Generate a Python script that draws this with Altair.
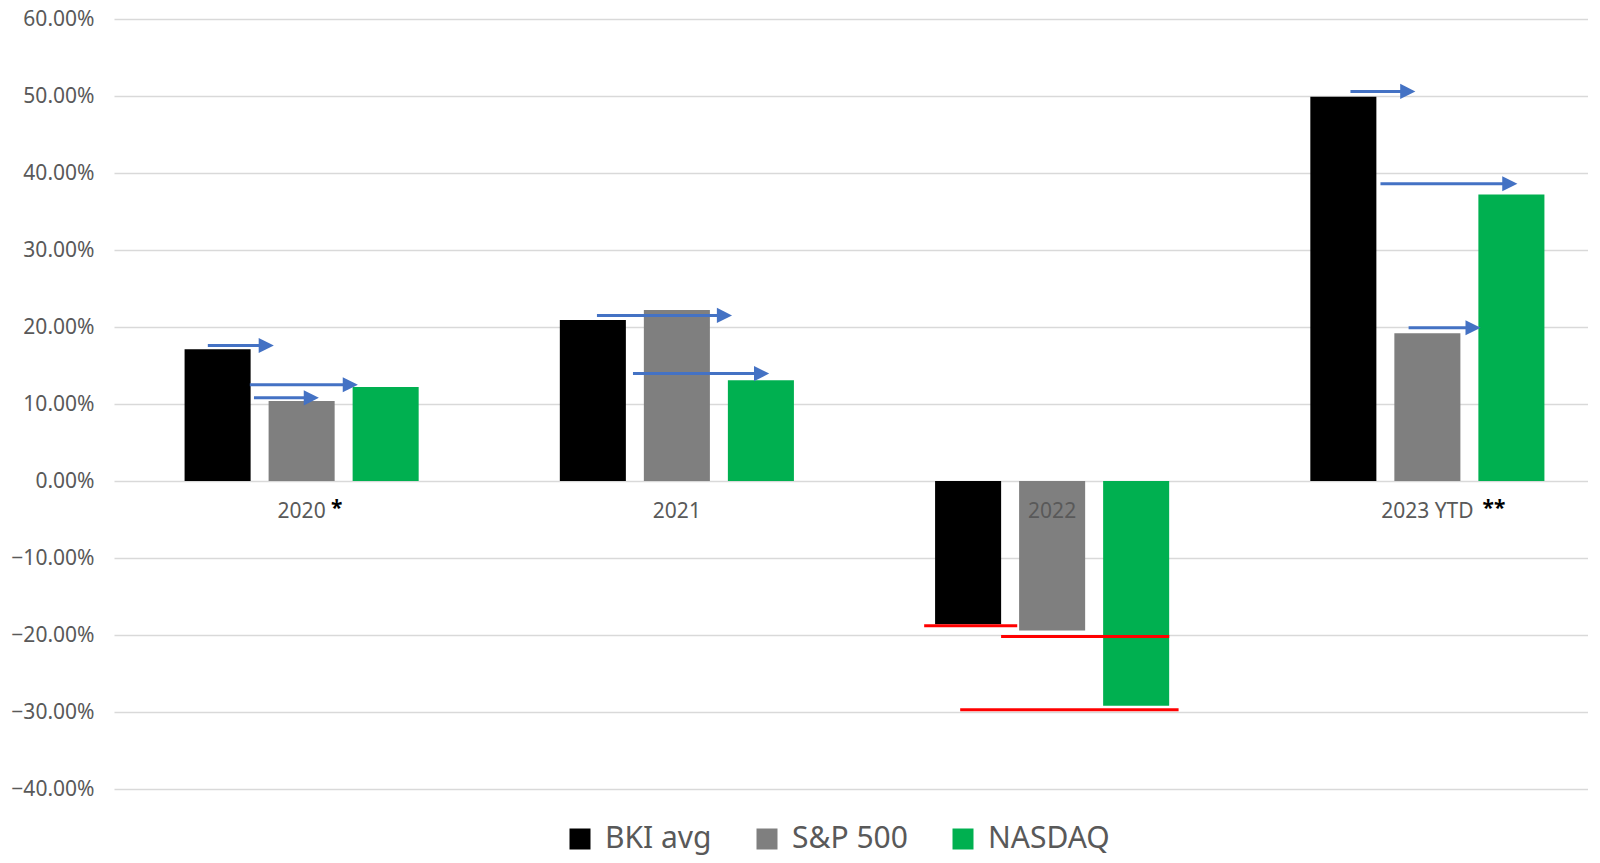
import altair as alt
import pandas as pd

FONT = "Noto Sans"

years = ["2020", "2021", "2022", "2023 YTD"]
series = ["BKI avg", "S&P 500", "NASDAQ"]
bki = [0.171, 0.209, -0.186, 0.499]
sp500 = [0.104, 0.222, -0.194, 0.192]
nasdaq = [0.122, 0.131, -0.292, 0.372]
colors = ["#000000", "#7F7F7F", "#00B050"]
y_ticks = [-0.4, -0.3, -0.2, -0.1, 0.0, 0.1, 0.2, 0.3, 0.4, 0.5, 0.6]

# annotation arrows (x in category units: category i spans [i, i+1])
arrow_x0 = [0.250, 0.362, 0.373, 1.287, 1.383, 3.295, 3.375, 3.450]
arrow_x1 = [0.426, 0.650, 0.546, 1.647, 1.746, 3.468, 3.740, 3.642]
arrow_y = [0.176, 0.125, 0.108, 0.215, 0.1395, 0.506, 0.386, 0.199]

# red marker lines in 2022
red_x0 = [2.159, 2.364, 2.255]
red_x1 = [2.407, 2.812, 2.837]
red_y = [-0.188, -0.202, -0.297]

# footnote asterisks next to category labels
star_text = ["*", "**"]
star_x = [0.578, 3.647]

XR = 1501  # pixel span of the four categories

rows = []
for i, yr in enumerate(years):
    for s, vals in zip(series, [bki, sp500, nasdaq]):
        rows.append({"year": yr, "series": s, "value": vals[i]})
df = pd.DataFrame(rows)

yaxis = alt.Axis(format=".2%", values=y_ticks, grid=True, gridColor="#D9D9D9",
                 gridWidth=1.5, domain=False, ticks=False, labelPadding=20,
                 labelFontSize=21, labelColor="#595959", labelFont=FONT, title=None)
yscale = alt.Scale(domain=[-0.4, 0.6], nice=False, zero=False)


def ydef(field):
    return alt.Y(f"{field}:Q", scale=yscale, axis=yaxis, title=None)


xband = alt.Scale(range=[0, XR], paddingInner=0, paddingOuter=0)
xq = alt.Scale(domain=[0, 4], range=[0, XR], nice=False, zero=False)

bars = alt.Chart(df).mark_bar().encode(
    x=alt.X("year:N", sort=years, scale=xband, axis=None),
    xOffset=alt.XOffset("series:N", sort=series,
                        scale=alt.Scale(paddingInner=0.214, paddingOuter=0.84)),
    y=ydef("value"),
    color=alt.Color("series:N", sort=series,
                    scale=alt.Scale(domain=series, range=colors),
                    legend=alt.Legend(title=None, orient="none", legendX=451, legendY=805,
                                      direction="horizontal", symbolType="square",
                                      symbolSize=441, symbolStrokeWidth=0,
                                      labelFontSize=30, labelColor="#595959",
                                      labelFont=FONT, labelOffset=10, columnPadding=40,
                                      labelLimit=0)),
)

labels_df = pd.DataFrame({"year": years, "zero": [0.0] * len(years)})
labels = alt.Chart(labels_df).mark_text(
    dy=31, fontSize=21, color="#595959", font=FONT, baseline="middle"
).encode(
    x=alt.X("year:N", sort=years, scale=alt.Scale(type="band", range=[0, XR],
                                                   paddingInner=0, paddingOuter=0), axis=None),
    y=ydef("zero"),
    text="year:N",
)

left = alt.layer(bars, labels)

arrows_df = pd.DataFrame({"x0": arrow_x0, "x1": arrow_x1, "y": arrow_y})
arrow_lines = alt.Chart(arrows_df).mark_rule(
    color="#4472C4", strokeWidth=3, x2Offset=-8
).encode(
    x=alt.X("x0:Q", scale=xq, axis=None), x2="x1:Q", y=ydef("y"),
)
arrow_heads = alt.Chart(arrows_df).mark_point(
    shape="M-2,-1L0,0L-2,1Z", filled=True, color="#4472C4", opacity=1, size=230,
    strokeWidth=0
).encode(
    x=alt.X("x1:Q", scale=xq, axis=None), y=ydef("y"),
)

red_df = pd.DataFrame({"x0": red_x0, "x1": red_x1, "y": red_y})
red_lines = alt.Chart(red_df).mark_rule(color="#FF0000", strokeWidth=3).encode(
    x=alt.X("x0:Q", scale=xq, axis=None), x2="x1:Q", y=ydef("y"),
)

stars_df = pd.DataFrame({"x": star_x, "t": star_text, "zero": [0.0, 0.0]})
stars = alt.Chart(stars_df).mark_text(
    align="left", baseline="middle", dy=28, fontSize=21, fontWeight="bold",
    color="#000000", font=FONT
).encode(
    x=alt.X("x:Q", scale=xq, axis=None), y=ydef("zero"), text="t:N",
)

right = alt.layer(red_lines, arrow_lines, arrow_heads, stars)

chart = alt.layer(left, right).resolve_scale(x="independent").properties(
    width=1474, height=770,
    background="#FFFFFF",
    autosize=alt.AutoSizeParams(type="none"),
    padding={"left": 106, "top": 11, "right": 0, "bottom": 72},
).configure_view(strokeWidth=0)

chart.save("out.html", embed_options={"renderer": "svg", "actions": False})
